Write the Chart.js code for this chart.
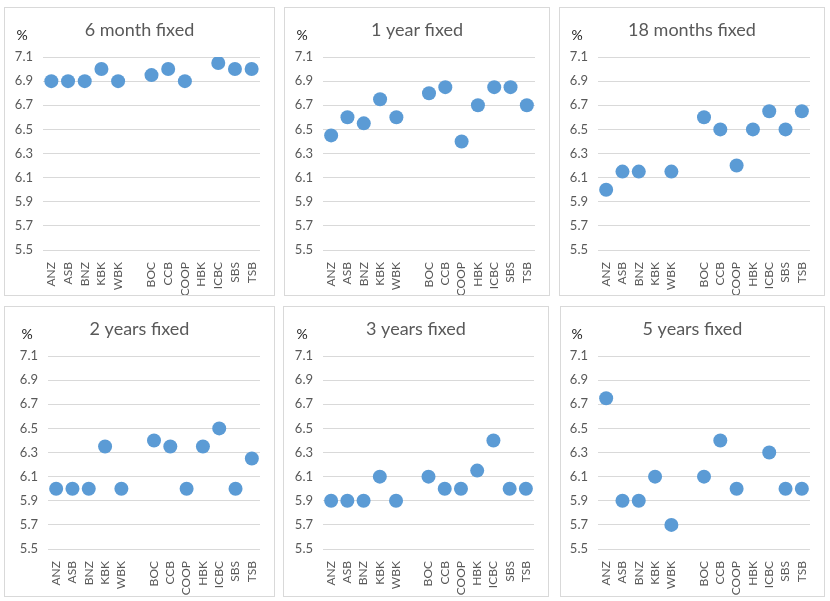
<!DOCTYPE html>
<html>
<head>
<meta charset="utf-8">
<script src="https://cdn.jsdelivr.net/npm/chart.js@4/dist/chart.umd.min.js"></script>
<style>
  body { margin: 0; background: #ffffff; }
  .panel { position: absolute; border: 1px solid #d9d9d9; background: #fff; }
  .panel canvas { position: absolute; left: 0; top: 0; }
</style>
</head>
<body>
<div id="wrap"></div>
<script>
// Bank names along the bottom (the blank one is the gap between the two groups)
const categories = ['ANZ', 'ASB', 'BNZ', 'KBK', 'WBK', '', 'BOC', 'CCB', 'COOP', 'HBK', 'ICBC', 'SBS', 'TSB'];

// Y tick labels, same on every panel
const yTicks = [5.5, 5.7, 5.9, 6.1, 6.3, 6.5, 6.7, 6.9, 7.1];

const titles = ['6 month fixed', '1 year fixed', '18 months fixed', '2 years fixed', '3 years fixed', '5 years fixed'];

// Rates in %, null = no rate shown
const sixMonth = [6.9, 6.9, 6.9, 7.0, 6.9, null, 6.95, 7.0, 6.9, null, 7.05, 7.0, 7.0];
const oneYear = [6.45, 6.6, 6.55, 6.75, 6.6, null, 6.8, 6.85, 6.4, 6.7, 6.85, 6.85, 6.7];
const eighteenMonths = [6.0, 6.15, 6.15, null, 6.15, null, 6.6, 6.5, 6.2, 6.5, 6.65, 6.5, 6.65];
const twoYears = [6.0, 6.0, 6.0, 6.35, 6.0, null, 6.4, 6.35, 6.0, 6.35, 6.5, 6.0, 6.25];
const threeYears = [5.9, 5.9, 5.9, 6.1, 5.9, null, 6.1, 6.0, 6.0, 6.15, 6.4, 6.0, 6.0];
const fiveYears = [6.75, 5.9, 5.9, 6.1, 5.7, null, 6.1, 6.4, 6.0, null, 6.3, 6.0, 6.0];

const series = [sixMonth, oneYear, eighteenMonths, twoYears, threeYears, fiveYears];

// panel boxes: left, top, width, height, y axis width
const panels = [
    [4, 7, 271, 289, 38],
    [284, 7, 266, 289, 38],
    [559, 7, 266, 289, 38],
    [4, 306, 271, 291, 43],
    [283, 306, 266, 291, 39],
    [560, 306, 265, 291, 37]
];

const textColor = '#595959';
const fontFamily = 'Lato, "Open Sans", sans-serif';

// panel title centred on the whole box, plus the little "%" above the y labels
const panelText = {
    id: 'panelText',
    afterDraw(chart, args, opts) {
        const ctx = chart.ctx;
        const area = chart.chartArea;
        ctx.save();
        ctx.textAlign = 'center';
        ctx.textBaseline = 'middle';
        ctx.fillStyle = textColor;
        ctx.font = '18px ' + fontFamily;
        ctx.fillText(opts.text, chart.width / 2, 22);
        ctx.fillStyle = '#222';
        ctx.font = '14px ' + fontFamily;
        ctx.fillText('%', area.left - 21, area.top - 22);
        ctx.restore();
    }
};

function makeChart(i) {
    const [left, top, w, h, axisW] = panels[i];
    const div = document.createElement('div');
    div.className = 'panel';
    div.style.left = left + 'px';
    div.style.top = top + 'px';
    div.style.width = (w - 2) + 'px';
    div.style.height = (h - 2) + 'px';
    const canvas = document.createElement('canvas');
    canvas.width = w - 2;
    canvas.height = h - 2;
    canvas.style.width = (w - 2) + 'px';
    canvas.style.height = (h - 2) + 'px';
    div.appendChild(canvas);
    document.getElementById('wrap').appendChild(div);

    const bottomH = h - 244;

    new Chart(canvas.getContext('2d'), {
        type: 'line',
        data: {
            labels: categories,
            datasets: [{
                data: series[i],
                showLine: false,
                pointRadius: 7,
                pointHoverRadius: 7,
                pointBackgroundColor: '#5b9bd5',
                pointBorderColor: '#5b9bd5',
                pointBorderWidth: 0
            }]
        },
        options: {
            responsive: false,
            animation: false,
            layout: { padding: { left: 0, right: 14, top: 49, bottom: 0 } },
            plugins: {
                legend: { display: false },
                tooltip: { enabled: false },
                title: { display: false },
                panelText: { text: titles[i] }
            },
            scales: {
                x: {
                    offset: true,
                    grid: { display: false },
                    border: { display: false },
                    ticks: {
                        color: textColor,
                        font: { family: fontFamily, size: 12 },
                        minRotation: 90,
                        maxRotation: 90,
                        autoSkip: false,
                        padding: 4
                    },
                    afterFit(scale) { scale.height = bottomH; }
                },
                y: {
                    min: 5.5,
                    max: 7.1,
                    grid: { color: '#d9d9d9', lineWidth: 1, drawTicks: false },
                    border: { display: false },
                    ticks: {
                        color: textColor,
                        font: { family: fontFamily, size: 13 },
                        padding: 10,
                        callback: v => Number(v).toFixed(1)
                    },
                    afterBuildTicks(scale) {
                        scale.ticks = yTicks.map(v => ({ value: v }));
                    },
                    afterFit(scale) { scale.width = axisW; }
                }
            }
        },
        plugins: [panelText]
    });
}

for (let i = 0; i < 6; i++) {
    makeChart(i);
}
</script>
</body>
</html>
